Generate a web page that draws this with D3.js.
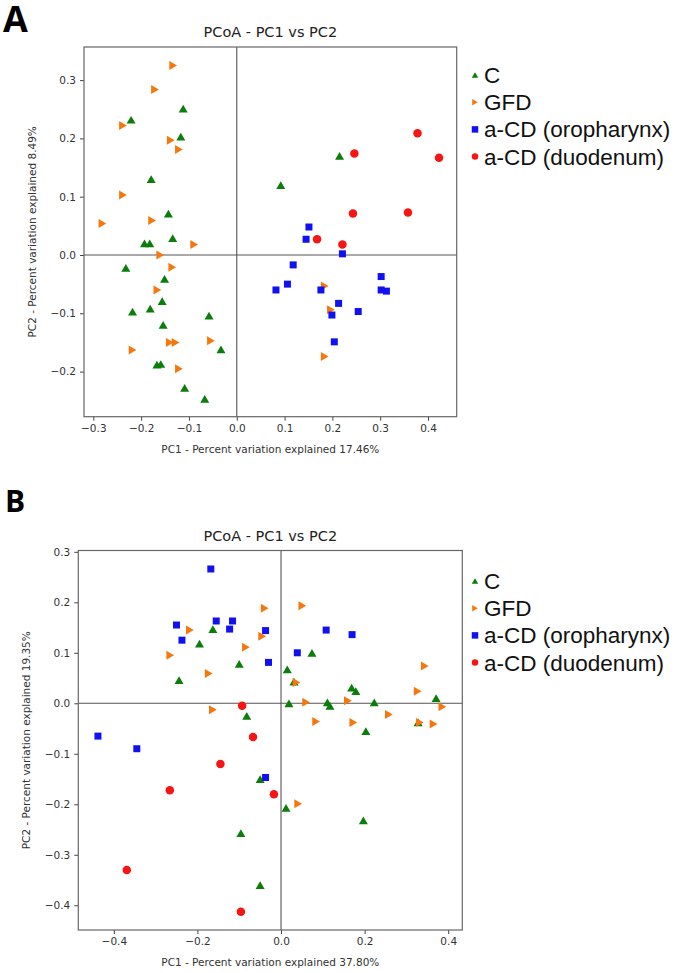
<!DOCTYPE html>
<html><head><meta charset="utf-8">
<script src="https://cdn.jsdelivr.net/npm/d3@7"></script>
<style>body{margin:0;background:#fff}svg{display:block}</style>
</head><body><div id="chart"></div>
<script>
// ---------- DATA ----------
const seriesNames = ["C", "GFD", "a-CD (oropharynx)", "a-CD (duodenum)"];
const chartTitle = "PCoA - PC1 vs PC2";

// Panel A: [PC1, PC2]
const A_C = [[-0.112,0.251],[-0.221,0.232],[-0.117,0.203],[-0.179,0.130],[-0.143,0.071],[-0.134,0.029],[-0.193,0.020],[-0.182,0.020],[-0.232,-0.022],[-0.151,-0.041],[-0.156,-0.079],[-0.218,-0.097],[-0.181,-0.092],[-0.058,-0.104],[-0.154,-0.120],[-0.033,-0.162],[-0.167,-0.188],[-0.159,-0.187],[-0.109,-0.228],[-0.067,-0.247],[0.215,0.170],[0.092,0.120]];
const A_GFD = [[-0.133,0.325],[-0.171,0.284],[-0.238,0.222],[-0.138,0.197],[-0.121,0.181],[-0.238,0.103],[-0.281,0.054],[-0.177,0.059],[-0.089,0.018],[-0.160,0.000],[-0.135,-0.021],[-0.166,-0.060],[-0.140,-0.150],[-0.128,-0.150],[-0.054,-0.147],[-0.218,-0.163],[-0.121,-0.195],[0.184,-0.053],[0.197,-0.094],[0.184,-0.174]];
const A_oro = [[0.151,0.048],[0.145,0.027],[0.221,0.002],[0.118,-0.017],[0.302,-0.037],[0.106,-0.050],[0.082,-0.060],[0.176,-0.060],[0.302,-0.060],[0.313,-0.062],[0.213,-0.083],[0.199,-0.103],[0.254,-0.097],[0.204,-0.149]];
const A_duo = [[0.378,0.209],[0.246,0.174],[0.423,0.167],[0.243,0.071],[0.358,0.073],[0.168,0.027],[0.221,0.018]];
const A_xLabel = "PC1 - Percent variation explained 17.46%";
const A_yLabel = "PC2 - Percent variation explained 8.49%";
const A_xTicks = [-0.3,-0.2,-0.1,0.0,0.1,0.2,0.3,0.4];
const A_xTickLabels = ["\u22120.3","\u22120.2","\u22120.1","0.0","0.1","0.2","0.3","0.4"];
const A_yTicks = [-0.2,-0.1,0.0,0.1,0.2,0.3];
const A_yTickLabels = ["\u22120.2","\u22120.1","0.0","0.1","0.2","0.3"];

// Panel B: [PC1, PC2]
const B_C = [[-0.163,0.147],[-0.195,0.118],[-0.100,0.078],[-0.244,0.046],[0.015,0.067],[0.074,0.100],[0.031,0.043],[0.169,0.031],[0.179,0.024],[0.371,0.010],[0.019,0.000],[0.111,0.002],[0.117,-0.005],[0.223,0.002],[0.203,-0.055],[0.328,-0.038],[-0.082,-0.025],[-0.050,-0.150],[0.012,-0.207],[0.197,-0.232],[-0.096,-0.257],[-0.050,-0.360]];
const B_GFD = [[-0.218,0.145],[-0.039,0.188],[-0.045,0.133],[-0.084,0.111],[-0.265,0.095],[-0.173,0.059],[0.051,0.193],[0.037,0.041],[0.344,0.074],[0.327,0.024],[0.060,0.002],[0.160,0.005],[0.386,-0.007],[0.258,-0.022],[0.084,-0.036],[0.173,-0.038],[0.332,-0.038],[0.365,-0.041],[0.041,-0.199],[-0.163,-0.013]];
const B_oro = [[-0.168,0.266],[-0.250,0.155],[-0.237,0.125],[-0.155,0.163],[-0.116,0.163],[-0.123,0.147],[-0.037,0.144],[-0.030,0.081],[0.108,0.145],[0.170,0.136],[0.039,0.100],[-0.438,-0.065],[-0.345,-0.090],[-0.037,-0.147]];
const B_duo = [[-0.093,-0.005],[-0.067,-0.067],[-0.145,-0.120],[-0.266,-0.172],[-0.017,-0.180],[-0.369,-0.330],[-0.096,-0.413]];
const B_xLabel = "PC1 - Percent variation explained 37.80%";
const B_yLabel = "PC2 - Percent variation explained 19.35%";
const B_xTicks = [-0.4,-0.2,0.0,0.2,0.4];
const B_xTickLabels = ["\u22120.4","\u22120.2","0.0","0.2","0.4"];
const B_yTicks = [-0.4,-0.3,-0.2,-0.1,0.0,0.1,0.2,0.3];
const B_yTickLabels = ["\u22120.4","\u22120.3","\u22120.2","\u22120.1","0.0","0.1","0.2","0.3"];

// ---------- STYLE / LAYOUT ----------
const colors = ["#0a7d0a", "#f5780f", "#1010f0", "#f51515"];
const shapes = ["triUp", "triRight", "square", "circle"];

const svg = d3.select("#chart").append("svg").attr("width", 685).attr("height", 973);

function markerPath(shape, s) {
  if (shape === "square") return d3.symbol(d3.symbolSquare, s * s)();
  if (shape === "circle") return d3.symbol(d3.symbolCircle, Math.PI * s * s / 4)();
  const h = s * 0.86;
  return `M0,${-h/2}L${s/2},${h/2}L${-s/2},${h/2}Z`;
}
function markerTransform(shape, x, y) {
  return `translate(${x},${y})` + (shape === "triRight" ? " rotate(90)" : "");
}

function drawPanel(cfg) {
  const g = svg.append("g");
  const x = d3.scaleLinear().domain(cfg.xDomain).range([cfg.left, cfg.right]);
  const y = d3.scaleLinear().domain(cfg.yDomain).range([cfg.bottom, cfg.top]);

  g.append("line").attr("x1", x(0)).attr("x2", x(0)).attr("y1", cfg.top).attr("y2", cfg.bottom)
    .attr("stroke", "#555").attr("stroke-width", 1.1);
  g.append("line").attr("x1", cfg.left).attr("x2", cfg.right).attr("y1", y(0)).attr("y2", y(0))
    .attr("stroke", "#555").attr("stroke-width", 1.1);

  const xAxis = d3.axisBottom(x).tickValues(cfg.xTicks)
    .tickFormat((d, i) => cfg.xTickLabels[i]).tickSizeOuter(0).tickSize(4).tickPadding(4);
  const yAxis = d3.axisLeft(y).tickValues(cfg.yTicks)
    .tickFormat((d, i) => cfg.yTickLabels[i]).tickSizeOuter(0).tickSize(4).tickPadding(4);
  const gx = g.append("g").attr("transform", `translate(0,${cfg.bottom})`).call(xAxis);
  const gy = g.append("g").attr("transform", `translate(${cfg.left},0)`).call(yAxis);
  [gx, gy].forEach(a => {
    a.select(".domain").remove();
    a.selectAll("line").attr("stroke", "#444").attr("stroke-width", 1);
    a.selectAll("text").attr("fill", "#333").style("font-family", "DejaVu Sans").style("font-size", "10.5px");
  });

  g.append("rect").attr("x", cfg.left).attr("y", cfg.top)
    .attr("width", cfg.right - cfg.left).attr("height", cfg.bottom - cfg.top)
    .attr("fill", "none").attr("stroke", "#666").attr("stroke-width", 1.2);

  cfg.series.forEach((data, si) => {
    g.append("g").selectAll("path").data(data).join("path")
      .attr("d", markerPath(shapes[si], si === 3 ? 8.5 : (si === 2 ? 7 : 9)))
      .attr("transform", d => markerTransform(shapes[si], x(d[0]), y(d[1])))
      .attr("fill", colors[si]);
  });

  g.append("text").attr("x", (cfg.left + cfg.right) / 2).attr("y", cfg.top - 10)
    .attr("text-anchor", "middle").attr("fill", "#222")
    .style("font-family", "DejaVu Sans").style("font-size", "14.5px").text(chartTitle);
  g.append("text").attr("x", (cfg.left + cfg.right) / 2).attr("y", cfg.bottom + cfg.xLabelOff)
    .attr("text-anchor", "middle").attr("fill", "#333")
    .style("font-family", "DejaVu Sans").style("font-size", "10.5px").text(cfg.xLabel);
  g.append("text").attr("transform", `translate(${cfg.yLabelX},${(cfg.top + cfg.bottom) / 2}) rotate(-90)`)
    .attr("text-anchor", "middle").attr("fill", "#333")
    .style("font-family", "DejaVu Sans").style("font-size", "10.5px").text(cfg.yLabel);

  g.append("text").attr("x", cfg.letterX).attr("y", cfg.letterY)
    .attr("fill", "#000").style("font-family", "Open Sans").style("font-weight", "bold")
    .style("font-size", cfg.letterSize + "px").text(cfg.letter);

  seriesNames.forEach((name, i) => {
    const cy = cfg.legendY + i * 27.2;
    g.append("path").attr("d", markerPath(shapes[i], 6.5))
      .attr("transform", markerTransform(shapes[i], 475, cy)).attr("fill", colors[i]);
    g.append("text").attr("x", 484).attr("y", cy + 8)
      .attr("fill", "#111").style("font-family", "Liberation Sans, Arial, sans-serif")
      .style("font-size", "22.5px").text(name);
  });
}

drawPanel({
  left: 84, right: 456.7, top: 47, bottom: 416.7,
  xDomain: [-0.3195, 0.460], yDomain: [-0.2774, 0.3568],
  xTicks: A_xTicks, xTickLabels: A_xTickLabels, yTicks: A_yTicks, yTickLabels: A_yTickLabels,
  series: [A_C, A_GFD, A_oro, A_duo],
  xLabel: A_xLabel, yLabel: A_yLabel, xLabelOff: 36, yLabelX: 36,
  letter: "A", letterX: 3, letterY: 32, letterSize: 36, legendY: 75
});
drawPanel({
  left: 78.3, right: 462.3, top: 550.5, bottom: 930,
  xDomain: [-0.485, 0.4337], yDomain: [-0.449, 0.3026],
  xTicks: B_xTicks, xTickLabels: B_xTickLabels, yTicks: B_yTicks, yTickLabels: B_yTickLabels,
  series: [B_C, B_GFD, B_oro, B_duo],
  xLabel: B_xLabel, yLabel: B_yLabel, xLabelOff: 36, yLabelX: 30,
  letter: "B", letterX: 5, letterY: 512, letterSize: 30, legendY: 581
});
</script></body></html>
